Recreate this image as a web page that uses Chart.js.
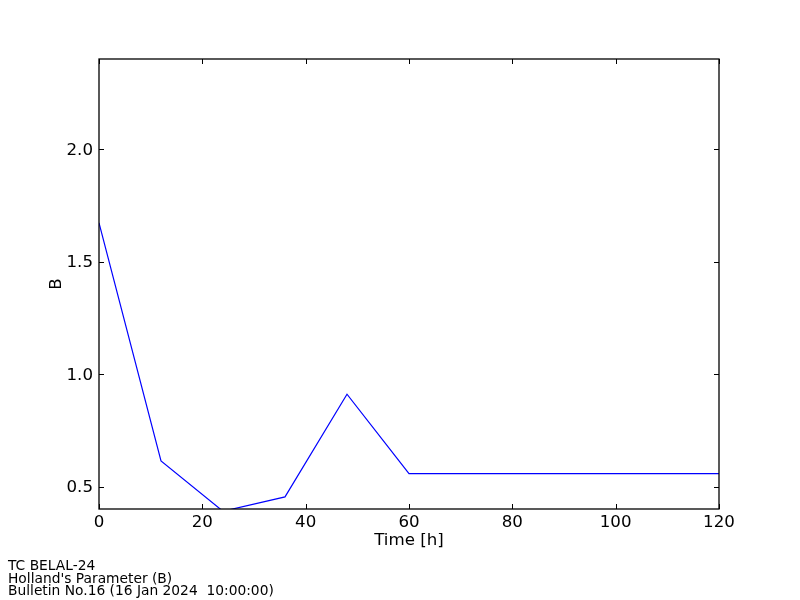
<!DOCTYPE html>
<html>
<head>
<meta charset="utf-8">
<script src="https://cdn.jsdelivr.net/npm/chart.js@4/dist/chart.umd.min.js"></script>
<style>
html,body{margin:0;padding:0;background:#fff;}
#wrap{position:relative;width:800px;height:600px;}
canvas{position:absolute;left:0;top:0;}
.foot{position:absolute;left:8px;font-family:"DejaVu Sans",sans-serif;font-size:13.8px;line-height:12.5px;color:#000;white-space:pre;}
</style>
</head>
<body>
<div id="wrap">
<canvas id="c" width="800" height="600"></canvas>
<div class="foot" style="top:559px">TC BELAL-24
Holland's Parameter (B)
Bulletin No.16 (16 Jan 2024  10:00:00)</div>
</div>
<script>
const hours = [0, 12, 24, 36, 48, 60, 72, 84, 96, 108, 120];
const bValues = [1.672, 0.614, 0.39, 0.454, 0.91, 0.557, 0.557, 0.557, 0.557, 0.557, 0.557];
const xTicks = [0, 20, 40, 60, 80, 100, 120];
const yTicks = [0.5, 1.0, 1.5, 2.0];

const FONT = "'DejaVu Sans', sans-serif";

const framePlugin = {
  id: 'frame',
  afterDraw(chart) {
    const {ctx, chartArea: a, scales} = chart;
    ctx.save();
    ctx.strokeStyle = '#000';
    ctx.lineWidth = 1;
    const L = 5;
    ctx.beginPath();
    xTicks.forEach(v => {
      const px = Math.round(scales.x.getPixelForValue(v)) + 0.5;
      ctx.moveTo(px, a.bottom); ctx.lineTo(px, a.bottom - L);
      ctx.moveTo(px, a.top); ctx.lineTo(px, a.top + L);
    });
    yTicks.forEach(v => {
      const py = Math.round(scales.y.getPixelForValue(v)) + 0.5;
      ctx.moveTo(a.left, py); ctx.lineTo(a.left + L, py);
      ctx.moveTo(a.right, py); ctx.lineTo(a.right - L, py);
    });
    ctx.stroke();
    ctx.lineWidth = 1.3;
    ctx.strokeRect(a.left, a.top, a.right - a.left, a.bottom - a.top);
    ctx.restore();
  }
};

new Chart(document.getElementById('c'), {
  type: 'line',
  data: {
    labels: hours,
    datasets: [{
      data: hours.map((h, i) => ({x: h, y: bValues[i]})),
      borderColor: '#0000ff',
      borderWidth: 1.2,
      pointRadius: 0,
      tension: 0,
      fill: false,
      clip: 0
    }]
  },
  options: {
    responsive: false,
    animation: false,
    devicePixelRatio: 1,
    layout: {padding: {left: 0, top: 59, right: 81, bottom: 49}},
    plugins: {legend: {display: false}, tooltip: {enabled: false}},
    scales: {
      x: {
        type: 'linear',
        min: 0, max: 120,
        afterBuildTicks: s => { s.ticks = xTicks.map(v => ({value: v})); },
        afterFit: s => { s.height = 42; },
        grid: {display: false, drawTicks: false},
        border: {display: false},
        ticks: {color: '#000', font: {family: FONT, size: 16.67}, padding: 4, maxRotation: 0, autoSkip: false},
        title: {display: true, text: 'Time [h]', color: '#000', font: {family: FONT, size: 16.67}, padding: {top: 0, bottom: 0}}
      },
      y: {
        type: 'linear',
        min: 0.4, max: 2.4,
        afterBuildTicks: s => { s.ticks = yTicks.map(v => ({value: v})); },
        afterFit: s => { s.width = 99; },
        grid: {display: false, drawTicks: false},
        border: {display: false},
        ticks: {color: '#000', font: {family: FONT, size: 16.67}, padding: 6, autoSkip: false, labelOffset: 1.5,
          callback: v => v.toFixed(1)},
        title: {display: true, text: 'B', color: '#000', font: {family: FONT, size: 16.67}, padding: {top: 47, bottom: 0}}
      }
    }
  },
  plugins: [framePlugin]
});
</script>
</body>
</html>
